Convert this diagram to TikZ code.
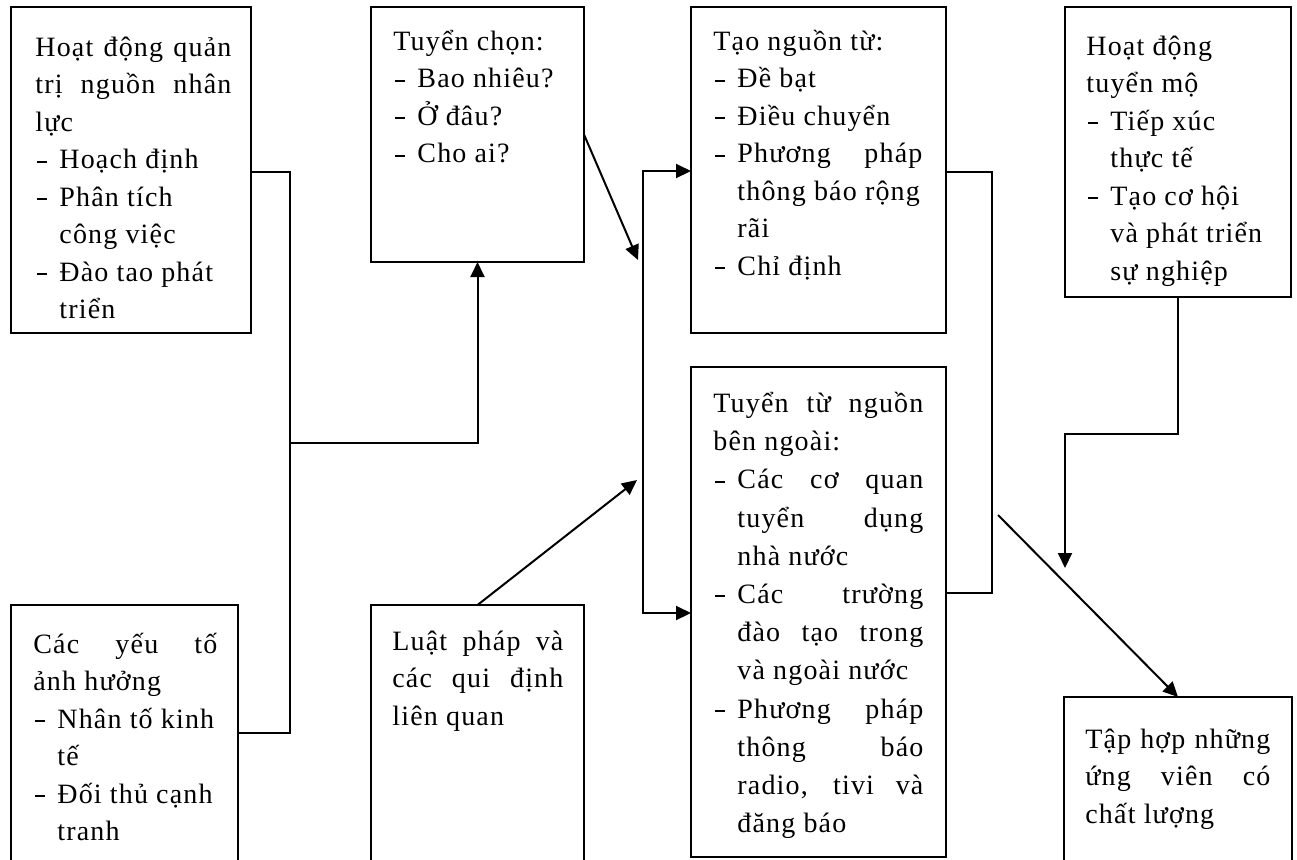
\documentclass[tikz,border=0pt]{standalone}
\usepackage{fontspec}
\setmainfont{Liberation Serif}[LetterSpace=4.2]
\usetikzlibrary{arrows.meta}
\newcommand\zDS{\hbox to 12pt{\hskip1pt\rule[3.0pt]{5pt}{1pt}\hfil}}
\newcommand\zLL[1]{\hbox to \hsize{#1\hfil}}
\newcommand\zLJ[1]{\hbox to \hsize{\makebox[\hsize][s]{#1}}}
\newcommand\zBL[1]{\hbox to \hsize{\zDS#1\hfil}}
\newcommand\zBJ[1]{\hbox to \hsize{\zDS\makebox[\dimexpr\hsize-12pt\relax][s]{#1}}}
\newcommand\zIL[1]{\hbox to \hsize{\hskip12pt #1\hfil}}
\newcommand\zIJ[1]{\hbox to \hsize{\hskip12pt\makebox[\dimexpr\hsize-12pt\relax][s]{#1}}}
\newcommand\zFR[1]{\rule{0pt}{#1}}
\begin{document}
\begin{tikzpicture}[x=0.5pt,y=-0.5pt,
  box/.style={draw,line width=1pt,outer sep=0pt,inner sep=0pt,anchor=north west},
  txt/.style={anchor=north west,inner sep=0pt,font=\fontsize{14pt}{18.75pt}\selectfont},
  ln/.style={line width=1pt},
  arr/.style={line width=1pt,-{Triangle[length=7.5pt,width=7pt]}},
  darr/.style={line width=1pt,{Triangle[length=7.5pt,width=7pt]}-{Triangle[length=7.5pt,width=7pt]}}]
\useasboundingbox (0,0) rectangle (1297,859);
\clip (0,0) rectangle (1297,859);
% boxes
\node[box,minimum width=120pt,minimum height=163pt] (b1) at (11,7) {};
\node[box,minimum width=106.5pt,minimum height=127.5pt] (b2) at (371,7) {};
\node[box,minimum width=127.5pt,minimum height=163pt] (b3) at (691,7) {};
\node[box,minimum width=113pt,minimum height=145pt] (b5) at (1065,7) {};
\node[box,minimum width=127.5pt,minimum height=245pt] (b4) at (691,367) {};
\node[box,minimum width=113.5pt,minimum height=140pt] (b6) at (11,605) {};
\node[box,minimum width=106.5pt,minimum height=140pt] (b7) at (371,605) {};
\node[box,minimum width=114pt,minimum height=95pt] (b8) at (1064,697) {};
% texts
\node[txt] (t1) at ([xshift=12pt]b1.north west) {\vbox{\hsize=98pt
 \zLJ{\zFR{24.5pt}Hoạt động quản}
 \zLJ{trị nguồn nhân}
 \zLL{lực}
 \zBL{Hoạch định}
 \zBL{Phân tích}
 \zIL{công việc}
 \zBL{Đào tao phát}
 \zIL{triển}}};
\node[txt] (t2) at ([xshift=11pt]b2.north west) {\vbox{\hsize=84.5pt
 \zLL{\zFR{21.5pt}Tuyển chọn:}
 \zBL{Bao nhiêu?}
 \zBL{Ở đâu?}
 \zBL{Cho ai?}}};
\node[txt] (t3) at ([xshift=11pt]b3.north west) {\vbox{\hsize=104.5pt
 \zLL{\zFR{21.5pt}Tạo nguồn từ:}
 \zBL{Đề bạt}
 \zBL{Điều chuyển}
 \zBJ{Phương pháp}
 \zIL{thông báo rộng}
 \zIL{rãi}
 \zBL{Chỉ định}}};
\node[txt] (t4) at ([xshift=11pt]b4.north west) {\vbox{\hsize=105pt\baselineskip=19.1pt
 \zLJ{\zFR{22.5pt}Tuyển từ nguồn}
 \zLL{bên ngoài:}
 \zBJ{Các cơ quan}
 \zIJ{tuyển dụng}
 \zIL{nhà nước}
 \zBJ{Các trường}
 \zIJ{đào tạo trong}
 \zIL{và ngoài nước}
 \zBJ{Phương pháp}
 \zIJ{thông báo}
 \zIJ{radio, tivi và}
 \zIL{đăng báo}}};
\node[txt] (t5) at ([xshift=10.5pt]b5.north west) {\vbox{\hsize=90pt
 \zLL{\zFR{24pt}Hoạt động}
 \zLL{tuyển mộ}
 \zBL{Tiếp xúc}
 \zIL{thực tế}
 \zBL{Tạo cơ hội}
 \zIL{và phát triển}
 \zIL{sự nghiệp}}};
\node[txt] (t6) at ([xshift=11pt]b6.north west) {\vbox{\hsize=92pt
 \zLJ{\zFR{24pt}Các yếu tố}
 \zLL{ảnh hưởng}
 \zBL{Nhân tố kinh}
 \zIL{tế}
 \zBL{Đối thủ cạnh}
 \zIL{tranh}}};
\node[txt] (t7) at ([xshift=10.5pt]b7.north west) {\vbox{\hsize=85.5pt
 \zLJ{\zFR{22.5pt}Luật pháp và}
 \zLJ{các qui định}
 \zLL{liên quan}}};
\node[txt] (t8) at ([xshift=10.5pt]b8.north west) {\vbox{\hsize=92.5pt
 \zLJ{\zFR{25.5pt}Tập hợp những}
 \zLJ{ứng viên có}
 \zLL{chất lượng}}};
% connectors
\coordinate (j1) at (290,172);
\coordinate (j2) at (290,733);
\coordinate (j3) at (290,443);
\draw[ln] (b1.east|-j1) -- (j1) -- (j2) -- (b6.east|-j2);
\draw[arr] (j3) -| (b2.south);
\coordinate (e1) at (638,260);
\draw[arr] (b2.east) -- (e1);
\coordinate (e2) at (637,480);
\draw[arr] (b7.north) -- (e2);
\coordinate (k1) at (643,171);
\coordinate (k2) at (643,613);
\draw[darr] (b3.west|-k1) -- (k1) -- (k2) -- (b4.west|-k2);
\coordinate (k3) at (992,172);
\coordinate (k4) at (992,593);
\draw[ln] (b3.east|-k3) -- (k3) -- (k4) -- (b4.east|-k4);
\coordinate (m1) at (1065,434);
\coordinate (m2) at (1065,568);
\draw[arr] (b5.south) |- (m1) -- (m2);
\coordinate (m3) at (998,515);
\draw[arr] (m3) -- (b8.north);
\end{tikzpicture}
\end{document}
